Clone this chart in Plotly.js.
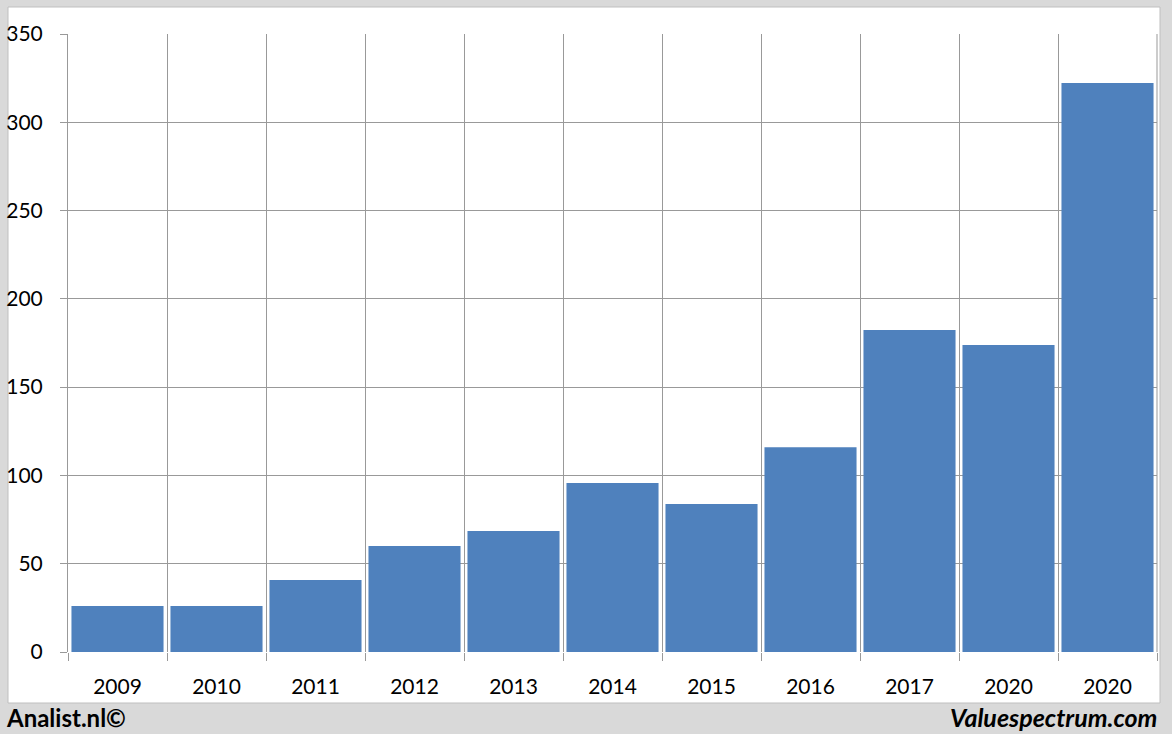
<!DOCTYPE html>
<html>
<head>
<meta charset="utf-8">
<script src="https://cdn.plot.ly/plotly-3.0.1.min.js"></script>
<style>html,body{margin:0;padding:0;background:#d9d9d9;}#chart{width:1172px;height:734px;}</style>
</head>
<body>
<div id="chart"></div>
<script>
const yearLabels = ["2009","2010","2011","2012","2013","2014","2015","2016","2017","2020","2020"];
const values = [26, 26, 40.8, 60, 68.5, 95.7, 83.8, 116, 182.3, 173.8, 322.2];
const yTicks = [0, 50, 100, 150, 200, 250, 300, 350];

const idx = yearLabels.map((_, i) => i);
const bounds = [];
for (let i = 0; i <= yearLabels.length; i++) bounds.push(i - 0.5);

const W = 1172, H = 734;
const L = 68, R = 15, T = 34, B = 82;
const pw = W - L - R, ph = H - T - B;
const px = x => (x - L) / pw;
const py = y => (H - B - y) / ph;

const grid = '#999999';
const font = 'Lato, "Liberation Sans", sans-serif';

Plotly.newPlot('chart', [{
  type: 'bar',
  x: idx,
  y: values,
  marker: {color: '#4f81bd', line: {width: 0}},
  width: 0.93,
  hoverinfo: 'y'
}], {
  width: W, height: H,
  margin: {l: L, r: R, t: T, b: B, pad: 0},
  paper_bgcolor: '#d9d9d9',
  plot_bgcolor: '#ffffff',
  showlegend: false,
  font: {family: font, size: 21, color: '#000'},
  xaxis: {
    range: [-0.5, yearLabels.length - 0.5],
    tickvals: idx,
    ticktext: yearLabels,
    ticks: '',
    showgrid: false,
    zeroline: false,
    showline: false,
    ticklabelstandoff: 20,
    tickfont: {family: font, size: 21, color: '#000'},
    minor: {tickvals: bounds, showgrid: true, gridcolor: grid, gridwidth: 1, ticks: 'outside', ticklen: 8, tickcolor: grid, tickwidth: 1},
    fixedrange: true
  },
  yaxis: {
    range: [0, 350],
    tickvals: yTicks,
    ticks: 'outside',
    ticklen: 7,
    tickcolor: grid,
    showgrid: true,
    gridcolor: grid,
    gridwidth: 1,
    zeroline: false,
    showline: true,
    linecolor: grid,
    linewidth: 1,
    ticklabelstandoff: 13,
    tickfont: {family: font, size: 21, color: '#000'},
    fixedrange: true
  },
  shapes: [
    {type: 'rect', xref: 'paper', yref: 'paper', layer: 'below',
     x0: px(8), x1: px(1160), y0: py(703), y1: py(7),
     fillcolor: '#ffffff', line: {color: '#bfbfbf', width: 1}},
    {type: 'line', xref: 'paper', yref: 'paper', x0: 1, x1: 1, y0: 0, y1: 1, line: {color: grid, width: 1}}
  ],
  annotations: [
    {xref: 'paper', yref: 'paper', x: px(4), y: py(717), xanchor: 'left', yanchor: 'middle', showarrow: false,
     text: '<b>Analist.nl©</b>', font: {family: font, size: 24, color: '#000'}},
    {xref: 'paper', yref: 'paper', x: px(1159), y: py(717), xanchor: 'right', yanchor: 'middle', showarrow: false,
     text: '<b><i>Valuespectrum.com</i></b>', font: {family: font, size: 25, color: '#000'}}
  ]
}, {displayModeBar: false, staticPlot: true});
</script>
</body>
</html>
